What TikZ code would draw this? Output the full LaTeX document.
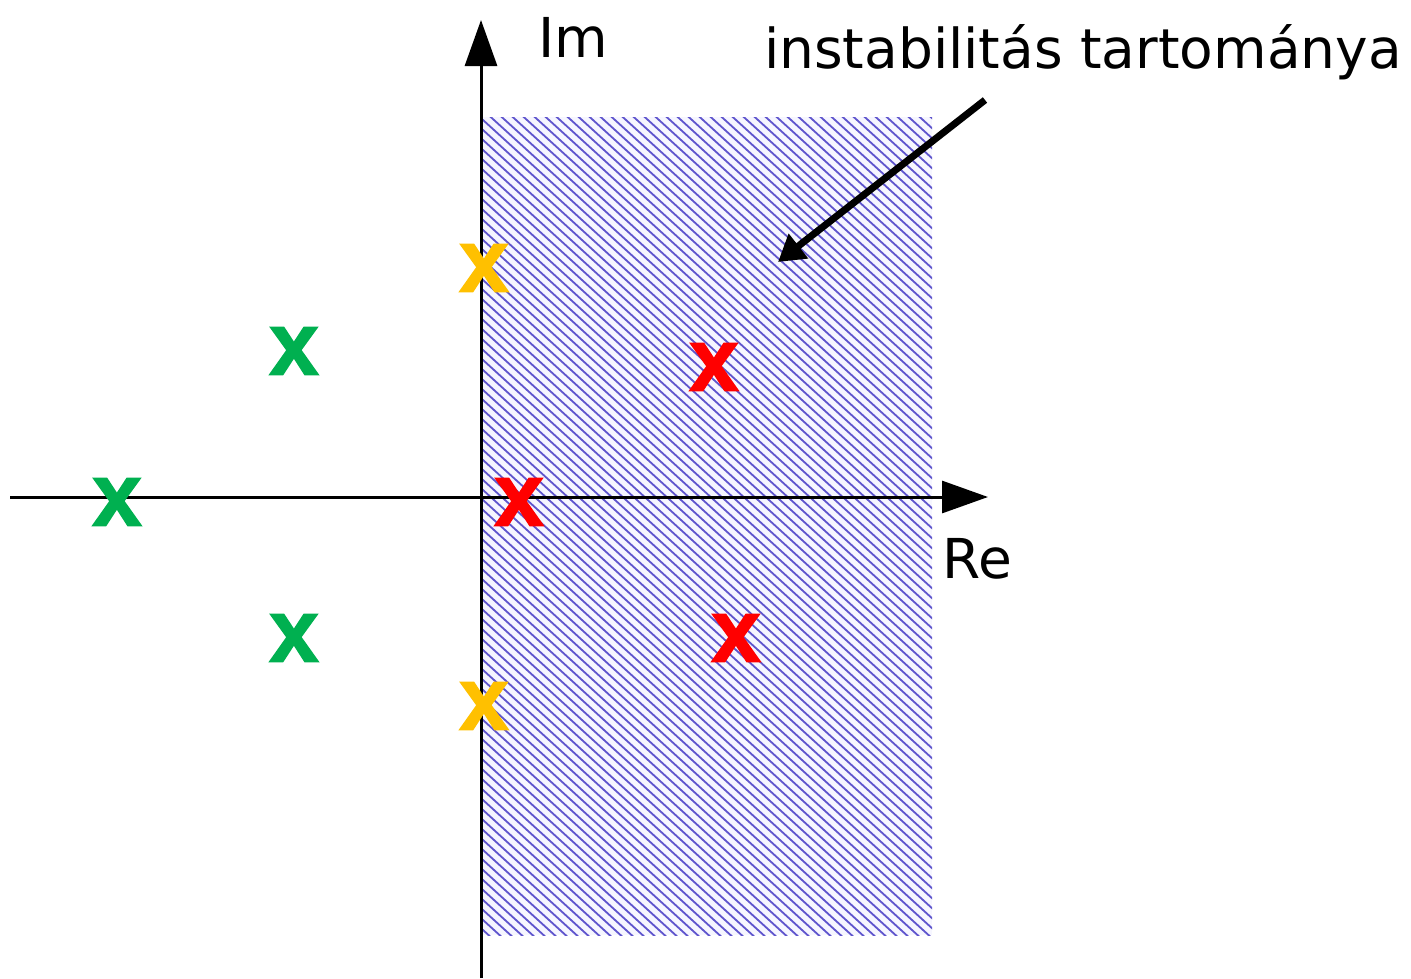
\documentclass[tikz,border=0pt]{standalone}
\usepackage{fontspec}
\setmainfont{DejaVu Sans}
\newfontfamily\xfont{Liberation Sans}[BoldFeatures={FakeBold=1.5}]
\usetikzlibrary{arrows.meta}
\definecolor{cor_green}{RGB}{0,176,80}
\definecolor{cor_yellow}{RGB}{255,192,0}
\definecolor{cor_red}{RGB}{255,0,0}
\definecolor{cor_hatch}{RGB}{95,85,205}
\definecolor{cor_bg}{RGB}{246,246,255}

\begin{document}
\begin{tikzpicture}[x=1pt,y=-1pt]
        \tikzset{
            pole/.style={
                text=#1,
                font=\xfont\bfseries\fontsize{90}{90}\selectfont,
                inner sep=0pt
            },
            lbl/.style={
                font=\fontsize{55}{60}\selectfont,
                inner sep=0pt
            }
        }
        \useasboundingbox (0,0) rectangle (1411,978);

        % instabil tartomany
        \fill[cor_bg] (481,117) rectangle (932,935);
        \begin{scope}
            \clip (481,117) rectangle (932,935);
            \foreach \c in {-1200,-1189,...,1000} {
                \draw[cor_hatch, line width=1.8pt] (\c,0) -- (\c+1100,1000);
            }
        \end{scope}

        % tengelyek
        \coordinate (rebal) at (10,497);
        \coordinate (rejobb) at (988,497);
        \coordinate (imlent) at (481,978);
        \coordinate (imfent) at (481,20);
        \draw[black, line width=3pt, -{Triangle[length=46pt,width=32pt]}] (rebal) -- (rejobb);
        \draw[black, line width=3pt, -{Triangle[length=46pt,width=32pt]}] (imlent) -- (imfent);

        \node[lbl, anchor=base west] (im) at (538,57) {Im};
        \node[lbl, anchor=base west] (re) at (942,578) {Re};
        \node[lbl, anchor=base east] (cim) at (1402,68) {instabilitás tartománya};

        \coordinate (nyilkezd) at (985,100);
        \coordinate (nyilveg) at (778,262);
        \draw[black, line width=7pt, -{Triangle[length=26pt,width=30pt]}] (nyilkezd) -- (nyilveg);

        % polusok
        \node[pole=cor_yellow] (p1) at (484,268) {x};
        \node[pole=cor_yellow] (p2) at (484,706) {x};
        \node[pole=cor_green] (p3) at (294,351) {x};
        \node[pole=cor_green] (p4) at (117,502) {x};
        \node[pole=cor_green] (p5) at (294,638) {x};
        \node[pole=cor_red] (p6) at (714,367) {x};
        \node[pole=cor_red] (p7) at (519,502) {x};
        \node[pole=cor_red] (p8) at (736,638) {x};

\end{tikzpicture}
\end{document}
